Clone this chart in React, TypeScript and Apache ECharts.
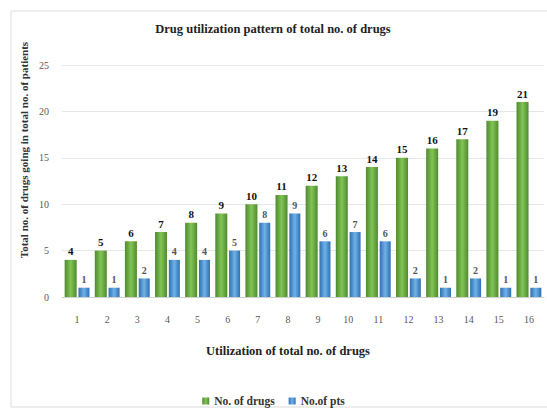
import React, { useEffect, useRef } from "react";
import * as echarts from "echarts";

// Number of drugs used per utilization group, and the patients in each group
const categories = ["1", "2", "3", "4", "5", "6", "7", "8", "9", "10", "11", "12", "13", "14", "15", "16"];
const drugCounts = [4, 5, 6, 7, 8, 9, 10, 11, 12, 13, 14, 15, 16, 17, 19, 21];
const patientCounts = [1, 1, 2, 4, 4, 5, 8, 9, 6, 7, 6, 2, 1, 2, 1, 1];
const yTicks = { min: 0, max: 25, interval: 5 };

const FONT = "'Liberation Serif', 'Times New Roman', serif";

const shade = (edge: string, mid: string) =>
  new echarts.graphic.LinearGradient(0, 0, 1, 0, [
    { offset: 0, color: edge },
    { offset: 0.5, color: mid },
    { offset: 1, color: edge },
  ]);

export default function App() {
  const ref = useRef<HTMLDivElement>(null);

  useEffect(() => {
    if (!ref.current) return;
    const chart = echarts.init(ref.current, null, { renderer: "svg" });
    chart.setOption({
      animation: false,
      backgroundColor: "#ffffff",
      textStyle: { fontFamily: FONT },
      grid: { left: 62, right: 3, top: 65, bottom: 116 },
      legend: {
        left: "center",
        top: 390,
        itemWidth: 7,
        itemHeight: 7,
        itemGap: 14,
        icon: "rect",
        textStyle: { fontFamily: FONT, fontWeight: "bold", fontSize: 11.5, color: "#333" },
        data: ["No. of drugs", "No.of pts"],
      },
      graphic: [
        {
          type: "rect",
          shape: { x: 11, y: 11, width: 545, height: 396 },
          style: { fill: "none", stroke: "#dcdcdc", lineWidth: 1 },
          silent: true,
          z: -1,
        },
        {
          type: "text",
          x: 273,
          y: 29,
          style: {
            text: "Drug utilization pattern of total no. of drugs",
            font: `bold 12.5px ${FONT}`,
            fill: "#222",
            align: "center",
            verticalAlign: "middle",
          },
        },
        {
          type: "text",
          x: 288,
          y: 351,
          style: {
            text: "Utilization of total no. of drugs",
            font: `bold 12.5px ${FONT}`,
            fill: "#222",
            align: "center",
            verticalAlign: "middle",
          },
        },
        {
          type: "text",
          x: 24,
          y: 150,
          rotation: Math.PI / 2,
          style: {
            text: "Total no. of drugs going in total no. of patients",
            font: `bold 11px ${FONT}`,
            fill: "#333",
            align: "center",
            verticalAlign: "middle",
          },
        },
      ],
      xAxis: {
        type: "category",
        data: categories,
        axisLine: { lineStyle: { color: "#d0d0d0" } },
        axisTick: { show: false },
        axisLabel: { color: "#595959", fontSize: 10, fontFamily: FONT, margin: 17 },
      },
      yAxis: {
        type: "value",
        min: yTicks.min,
        max: yTicks.max,
        interval: yTicks.interval,
        axisLine: { show: false },
        axisTick: { show: false },
        axisLabel: { color: "#595959", fontSize: 10, fontFamily: FONT, margin: 13 },
        splitLine: { lineStyle: { color: "#e6e6e6" } },
      },
      series: [
        {
          name: "No. of drugs",
          type: "bar",
          data: drugCounts,
          barWidth: 12,
          barGap: "15%",
          itemStyle: { color: shade("#4f8a2f", "#82c455") },
          label: {
            show: true,
            position: "top",
            distance: 3,
            fontFamily: FONT,
            fontWeight: "bold",
            fontSize: 11,
            color: "#111",
          },
        },
        {
          name: "No.of pts",
          type: "bar",
          data: patientCounts,
          barWidth: 11,
          itemStyle: { color: shade("#2f6fae", "#6fb2ea") },
          label: {
            show: true,
            position: "top",
            distance: 3,
            fontFamily: FONT,
            fontWeight: "bold",
            fontSize: 10,
            color: "#555",
          },
        },
      ],
    });
    return () => chart.dispose();
  }, []);

  return (
    <div
      ref={ref}
      style={{ position: "fixed", left: 0, top: 0, width: 547, height: 413 }}
    />
  );
}
